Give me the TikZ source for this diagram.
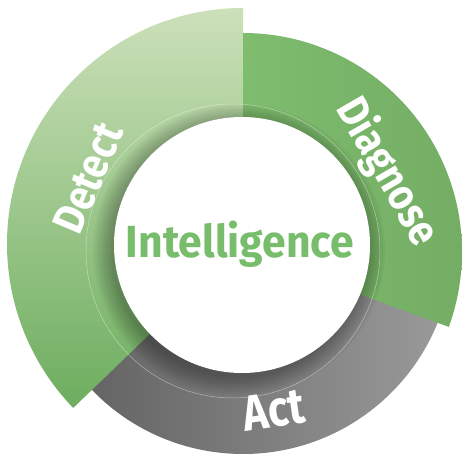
\documentclass[tikz,border=0pt]{standalone}
\usepackage{fontspec}
\setmainfont{Fira Sans}
\definecolor{detTop}{HTML}{CCE0B9}
\definecolor{detBot}{HTML}{6DAE5F}
\definecolor{diaL}{HTML}{7EBC6E}
\definecolor{diaR}{HTML}{73AD64}
\definecolor{actL}{HTML}{636363}
\definecolor{actR}{HTML}{9A9A9A}
\definecolor{intel}{HTML}{77BD6B}
\tikzset{
  ringlabel/.style={text=white, font=\bfseries\fontsize{44}{44}\selectfont, inner sep=0pt},
}
\begin{document}
\begin{tikzpicture}[x=1pt,y=1pt]
\useasboundingbox (-243,-210) rectangle (219,244);
% Act segment
\path[left color=actL, right color=actR]
  (220:210pt) arc[start angle=220, end angle=345, radius=210pt]
  -- (345:110pt) arc[start angle=345, end angle=220, radius=110pt] -- cycle;
% Detect segment
\path[top color=detTop, bottom color=detBot]
  (90:236pt) arc[start angle=90, end angle=224, radius=236pt]
  -- (224:110pt) arc[start angle=224, end angle=90, radius=110pt] -- cycle;
% Diagnose segment
\begin{scope}[shift={(0,-8)}]
\path[left color=diaL, right color=diaR]
  (90:219pt) arc[start angle=90, end angle=-20, radius=219pt]
  -- (-20:100pt) arc[start angle=-20, end angle=90, radius=100pt] -- cycle;
\end{scope}
% soft shadow of the core
\foreach \r in {128,130,...,146}
  \fill[black, opacity=0.03] (-4,-6) circle[radius=\r pt];
% faint guide circle
\draw[white, opacity=0.45, line width=0.5pt] (-10,-7) circle[radius=147pt];
% core
\node[circle, fill=white, minimum size=256pt, inner sep=0pt] (core) at (-1,-1) {};
\node[text=intel, font=\bfseries\fontsize{45}{45}\selectfont, inner sep=0pt, anchor=base, xscale=0.95] (intelligence) at (-3,-14) {Intelligence};
% labels
\node[ringlabel, rotate=67, xscale=0.87] (detect) at (-155,66) {Detect};
\node[ringlabel, rotate=-60, xscale=0.87] (diagnose) at (144,72) {Diagnose};
\node[ringlabel, font=\bfseries\fontsize{50}{50}\selectfont, rotate=8, xscale=0.85] (act) at (31,-166) {Act};
\end{tikzpicture}
\end{document}
